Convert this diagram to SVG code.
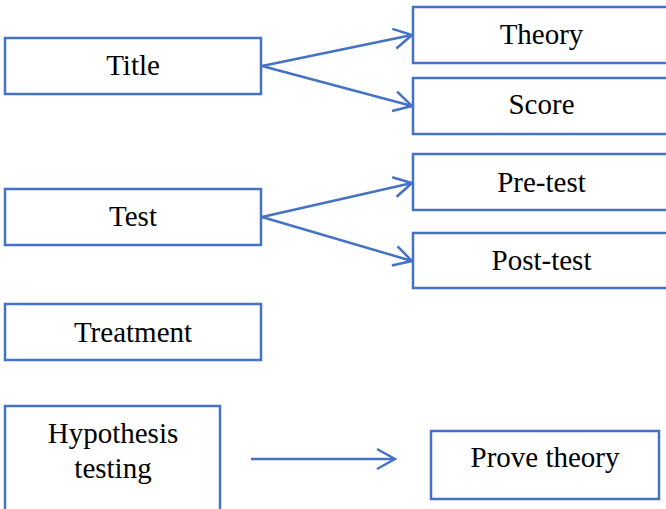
<svg xmlns="http://www.w3.org/2000/svg" width="666" height="509" viewBox="0 0 666 509">
<style>
.box{fill:#ffffff;stroke:#4472C4;stroke-width:2.5}
.lbl{font-family:"Liberation Serif","Times New Roman",serif;font-size:29px;fill:#000000;text-anchor:middle}
.conn{fill:none;stroke:#4472C4;stroke-width:2.5;marker-end:url(#arr)}
</style>
<defs>
<marker id="arr" markerUnits="userSpaceOnUse" viewBox="-22 -13 24 26" refX="0" refY="0" markerWidth="24" markerHeight="26" orient="auto">
<path d="M -18 -10 L 0 0 L -18 10" fill="none" stroke="#4472C4" stroke-width="2.5"/>
</marker>
</defs>
<rect width="666" height="509" fill="#ffffff"/>
<g id="node-title"><rect class="box" x="5" y="38" width="256" height="56"/><text class="lbl" x="133" y="75">Title</text></g>
<g id="node-theory"><rect class="box" x="413" y="7" width="256" height="56"/><text class="lbl" x="541.5" y="44">Theory</text></g>
<g id="node-score"><rect class="box" x="413" y="78" width="256" height="56"/><text class="lbl" x="541.5" y="114">Score</text></g>
<g id="node-test"><rect class="box" x="5" y="189" width="256" height="56"/><text class="lbl" x="133" y="226">Test</text></g>
<g id="node-pretest"><rect class="box" x="413" y="154" width="256" height="56"/><text class="lbl" x="541.5" y="192">Pre-test</text></g>
<g id="node-posttest"><rect class="box" x="413" y="233" width="256" height="55"/><text class="lbl" x="541.5" y="270">Post-test</text></g>
<g id="node-treatment"><rect class="box" x="5" y="304" width="256" height="56"/><text class="lbl" x="133" y="342">Treatment</text></g>
<g id="node-hypothesis"><rect class="box" x="5" y="406" width="215" height="110"/><text class="lbl" x="113" y="443">Hypothesis</text><text class="lbl" x="113" y="478">testing</text></g>
<g id="node-prove"><rect class="box" x="431" y="431" width="228" height="68"/><text class="lbl" x="545" y="467">Prove theory</text></g>
<g id="connectors">
<line class="conn" x1="262" y1="66" x2="412" y2="35"/>
<line class="conn" x1="262" y1="66" x2="412" y2="106"/>
<line class="conn" x1="262" y1="217" x2="412" y2="183"/>
<line class="conn" x1="262" y1="217" x2="412" y2="261"/>
<line class="conn" x1="251" y1="459" x2="395" y2="459"/>
</g>
</svg>
